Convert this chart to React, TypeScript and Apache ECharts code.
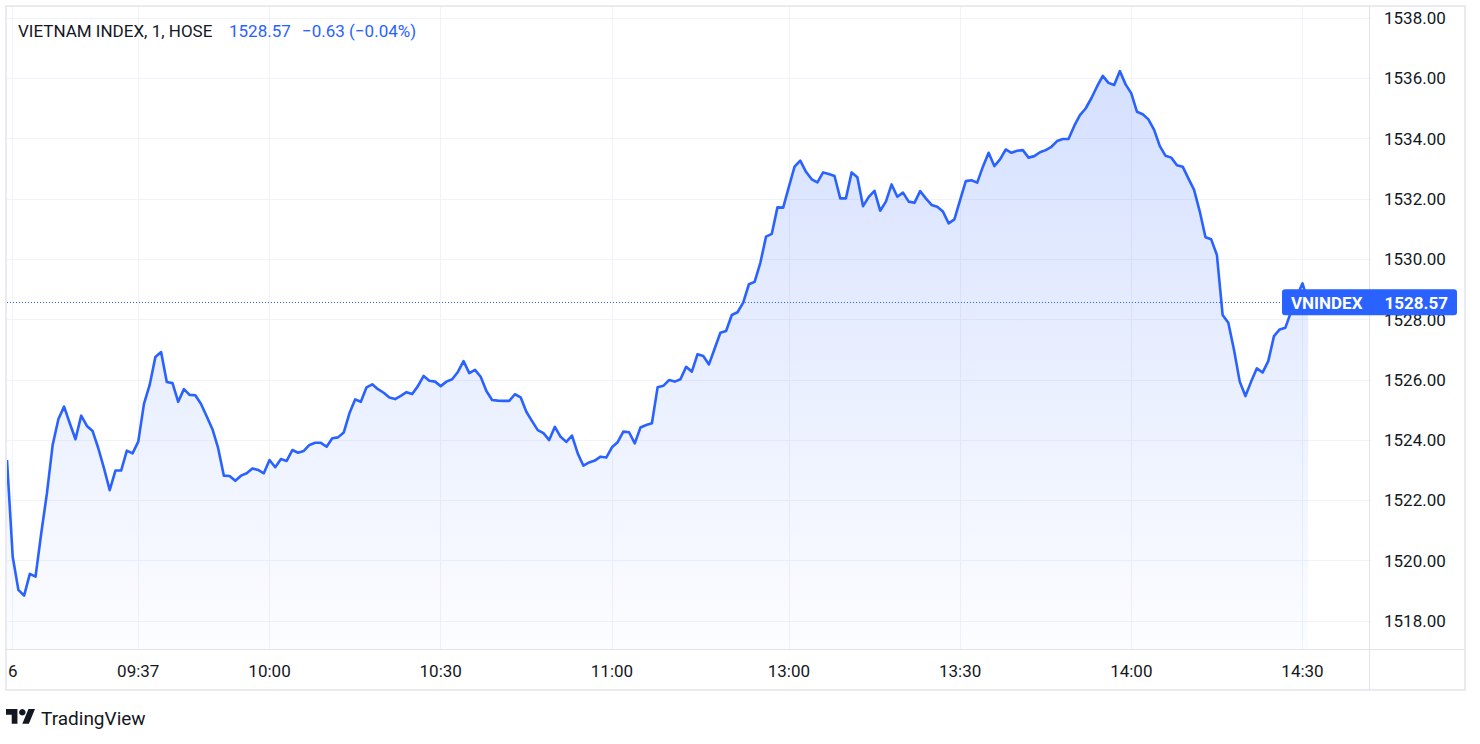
import React, { useEffect, useRef } from "react";
import * as echarts from "echarts";

// ---- Data -------------------------------------------------------------
const SYMBOL_TITLE = "VIETNAM INDEX, 1, HOSE";
const LAST_PRICE_TEXT = "1528.57";
const CHANGE_TEXT = "\u22120.63 (\u22120.04%)";
const LABEL_NAME = "VNINDEX";

// one-minute closes, first bar at 09:14, lunch break after 11:30, last bar ATC
const values: number[] = [
  1523.34, 1520.13, 1519.03, 1518.84, 1519.56, 1519.47, 1520.91, 1522.24, 1523.84, 1524.69,
  1525.11, 1524.56, 1524.03, 1524.81, 1524.47, 1524.30, 1523.73, 1523.06, 1522.34, 1522.99,
  1522.99, 1523.65, 1523.56, 1523.95, 1525.20, 1525.83, 1526.76, 1526.92, 1525.93, 1525.89,
  1525.27, 1525.69, 1525.50, 1525.49, 1525.20, 1524.78, 1524.36, 1523.73, 1522.82, 1522.81,
  1522.65, 1522.82, 1522.90, 1523.06, 1523.01, 1522.90, 1523.34, 1523.10, 1523.37, 1523.31,
  1523.67, 1523.58, 1523.64, 1523.84, 1523.91, 1523.91, 1523.78, 1524.06, 1524.09, 1524.25,
  1524.89, 1525.35, 1525.27, 1525.75, 1525.85, 1525.69, 1525.57, 1525.41, 1525.36, 1525.47,
  1525.59, 1525.53, 1525.79, 1526.13, 1525.97, 1525.94, 1525.79, 1525.94, 1526.02, 1526.26,
  1526.62, 1526.22, 1526.33, 1526.10, 1525.63, 1525.33, 1525.31, 1525.30, 1525.30, 1525.52,
  1525.42, 1524.94, 1524.63, 1524.33, 1524.23, 1524.00, 1524.44, 1524.11, 1523.94, 1524.15,
  1523.56, 1523.15, 1523.26, 1523.32, 1523.45, 1523.42, 1523.76, 1523.93, 1524.28, 1524.26,
  1523.89, 1524.42, 1524.50, 1524.56, 1525.75, 1525.80, 1525.99, 1525.94, 1526.02, 1526.43,
  1526.27, 1526.85, 1526.79, 1526.51, 1527.04, 1527.56, 1527.62, 1528.15, 1528.24, 1528.56,
  1529.17, 1529.25, 1529.88, 1530.75, 1530.84, 1531.72, 1531.71, 1532.40, 1533.07, 1533.27,
  1532.90, 1532.65, 1532.55, 1532.88, 1532.83, 1532.76, 1532.02, 1532.02, 1532.88, 1532.72,
  1531.76, 1532.07, 1532.27, 1531.61, 1531.91, 1532.48, 1532.07, 1532.21, 1531.91, 1531.87,
  1532.26, 1532.02, 1531.80, 1531.74, 1531.58, 1531.19, 1531.32, 1531.96, 1532.59, 1532.62,
  1532.54, 1533.07, 1533.53, 1533.09, 1533.31, 1533.64, 1533.53, 1533.60, 1533.62, 1533.37,
  1533.42, 1533.55, 1533.62, 1533.73, 1533.92, 1533.99, 1533.99, 1534.42, 1534.78, 1535.00,
  1535.34, 1535.73, 1536.08, 1535.85, 1535.78, 1536.24, 1535.80, 1535.50, 1534.89, 1534.81,
  1534.64, 1534.29, 1533.75, 1533.43, 1533.37, 1533.12, 1533.07, 1532.68, 1532.30, 1531.58,
  1530.73, 1530.66, 1530.14, 1528.15, 1527.89, 1526.99, 1525.94, 1525.46, 1525.94, 1526.38,
  1526.24, 1526.62, 1527.45, 1527.67, 1527.73, 1528.26, 1528.76, 1529.20, 1528.57,
];

// session segments (minutes) used to build category labels
const sessions: [string, string][] = [
  ["09:14", "11:30"],
  ["13:00", "14:30"],
  ["14:45", "14:45"],
];
const EMPTY_SLOTS = 11; // right-side empty space of the time scale

const tickTimes = ["09:15", "09:37", "10:00", "10:30", "11:00", "13:00", "13:30", "14:00", "14:30"];
const tickLabels = ["6", "09:37", "10:00", "10:30", "11:00", "13:00", "13:30", "14:00", "14:30"];

const Y_MIN = 1517.07;
const Y_MAX = 1538.4;
const Y_STEP = 2;

// ---- Helpers ----------------------------------------------------------
const toMin = (s: string) => {
  const [h, m] = s.split(":").map(Number);
  return h * 60 + m;
};
const fmt = (m: number) =>
  String(Math.floor(m / 60)).padStart(2, "0") + ":" + String(m % 60).padStart(2, "0");

const categories: string[] = [];
sessions.forEach(([a, b]) => {
  for (let m = toMin(a); m <= toMin(b); m++) categories.push(fmt(m));
});
for (let k = 0; k < EMPTY_SLOTS; k++) categories.push(" ".repeat(k + 1));

const tickMap = new Map<string, string>();
tickTimes.forEach((t, i) => tickMap.set(t, tickLabels[i]));

const LOGO_PATH = "M14 22H7V11H0V4h14v18zM28 22h-8l7.5-18h8L28 22z";
echarts.graphic.registerShape("tvlogo", echarts.graphic.extendPath(LOGO_PATH, {}) as any);

const FONT = "Roboto, 'Noto Sans', sans-serif";
const TEXT = "#131722";
const BLUE = "#2962ff";
const GRID = "#f0f3fa";
const SEP = "#e0e3eb";

export default function App() {
  const ref = useRef<HTMLDivElement>(null);

  useEffect(() => {
    if (!ref.current) return;
    const chart = echarts.init(ref.current, undefined, { renderer: "svg" });
    const last = values[values.length - 1];

    chart.setOption({
      animation: false,
      backgroundColor: "#ffffff",
      grid: { left: 7, top: 6, width: 1364, height: 643, containLabel: false },
      xAxis: {
        type: "category",
        data: categories,
        boundaryGap: false,
        axisLine: { show: false },
        axisTick: { show: false },
        axisLabel: {
          interval: (_i: number, v: string) => tickMap.has(v),
          formatter: (v: string) => tickMap.get(v) ?? "",
          color: TEXT,
          fontSize: 17,
          fontFamily: FONT,
          margin: 13,
        },
        splitLine: {
          show: true,
          interval: (_i: number, v: string) => tickMap.has(v),
          lineStyle: { color: GRID, width: 1 },
        },
      },
      yAxis: {
        type: "value",
        position: "right",
        min: Y_MIN,
        max: Y_MAX,
        minInterval: Y_STEP,
        maxInterval: Y_STEP,
        splitNumber: 10,
        axisLine: { show: false },
        axisTick: { show: false },
        axisLabel: {
          showMinLabel: false,
          showMaxLabel: false,
          formatter: (v: number) =>
            Math.abs(v / Y_STEP - Math.round(v / Y_STEP)) < 1e-6 ? v.toFixed(2) : "",
          color: TEXT,
          fontSize: 17,
          fontFamily: FONT,
          margin: 13,
        },
        splitLine: { show: true, lineStyle: { color: GRID, width: 1 } },
      },
      series: [
        {
          type: "line",
          data: values,
          symbol: "none",
          smooth: false,
          lineStyle: { color: BLUE, width: 2.6, join: "round" },
          areaStyle: {
            color: new echarts.graphic.LinearGradient(0, 0, 0, 1, [
              { offset: 0, color: "rgba(41,98,255,0.28)" },
              { offset: 1, color: "rgba(41,98,255,0.02)" },
            ]),
          },
          markLine: {
            silent: true,
            symbol: ["none", "none"],
            label: { show: false },
            lineStyle: { color: BLUE, type: [1, 2], width: 1 },
            data: [{ yAxis: last }],
          },
          z: 3,
        },
      ],
    });

    const py = chart.convertToPixel({ yAxisIndex: 0 }, last) as number;
    const s = 0.817;
    const lx = 6;
    const ly = 705.7;

    chart.setOption({
      graphic: [
        // frame
        {
          type: "rect",
          z: 50,
          silent: true,
          shape: { x: 6, y: 6, width: 1459, height: 684 },
          style: { fill: "none", stroke: "#e9ebf1", lineWidth: 2 },
        },
        {
          type: "line",
          z: 50,
          silent: true,
          shape: { x1: 6, y1: 649.5, x2: 1465, y2: 649.5 },
          style: { stroke: SEP, lineWidth: 1 },
        },
        {
          type: "line",
          z: 50,
          silent: true,
          shape: { x1: 1369.5, y1: 6, x2: 1369.5, y2: 690 },
          style: { stroke: SEP, lineWidth: 1 },
        },
        // legend / title
        {
          type: "text",
          z: 60,
          x: 18,
          y: 31,
          style: { text: SYMBOL_TITLE, fill: TEXT, fontSize: 17, fontFamily: FONT, align: "left", verticalAlign: "middle" },
        },
        {
          type: "text",
          z: 60,
          x: 229,
          y: 31,
          style: { text: LAST_PRICE_TEXT, fill: BLUE, fontSize: 17, fontFamily: FONT, align: "left", verticalAlign: "middle" },
        },
        {
          type: "text",
          z: 60,
          x: 302,
          y: 31,
          style: { text: CHANGE_TEXT, fill: BLUE, fontSize: 17, fontFamily: FONT, align: "left", verticalAlign: "middle" },
        },
        // last price label
        {
          type: "rect",
          z: 70,
          shape: { x: 1282, y: py - 13, width: 175, height: 26, r: 3 },
          style: { fill: BLUE },
        },
        {
          type: "text",
          z: 71,
          x: 1291,
          y: py + 1,
          style: { text: LABEL_NAME, fill: "#ffffff", fontSize: 17, fontWeight: "bold", fontFamily: FONT, align: "left", verticalAlign: "middle" },
        },
        {
          type: "text",
          z: 71,
          x: 1448,
          y: py + 1,
          style: { text: last.toFixed(2), fill: "#ffffff", fontSize: 17, fontWeight: "bold", fontFamily: FONT, align: "right", verticalAlign: "middle" },
        },
        // TradingView attribution
        {
          type: "tvlogo",
          z: 60,
          x: lx,
          y: ly,
          scaleX: s,
          scaleY: s,
          style: { fill: TEXT },
        },
        {
          type: "circle",
          z: 60,
          shape: { cx: lx + 20 * s, cy: ly + 8 * s, r: 4 * s },
          style: { fill: TEXT },
        },
        {
          type: "text",
          z: 60,
          x: 41,
          y: 718.5,
          style: { text: "TradingView", fill: TEXT, fontSize: 19, fontFamily: FONT, align: "left", verticalAlign: "middle" },
        },
      ],
    });

    return () => chart.dispose();
  }, []);

  return (
    <div
      ref={ref}
      style={{ position: "fixed", left: 0, top: 0, width: 1480, height: 744, background: "#ffffff" }}
    />
  );
}
